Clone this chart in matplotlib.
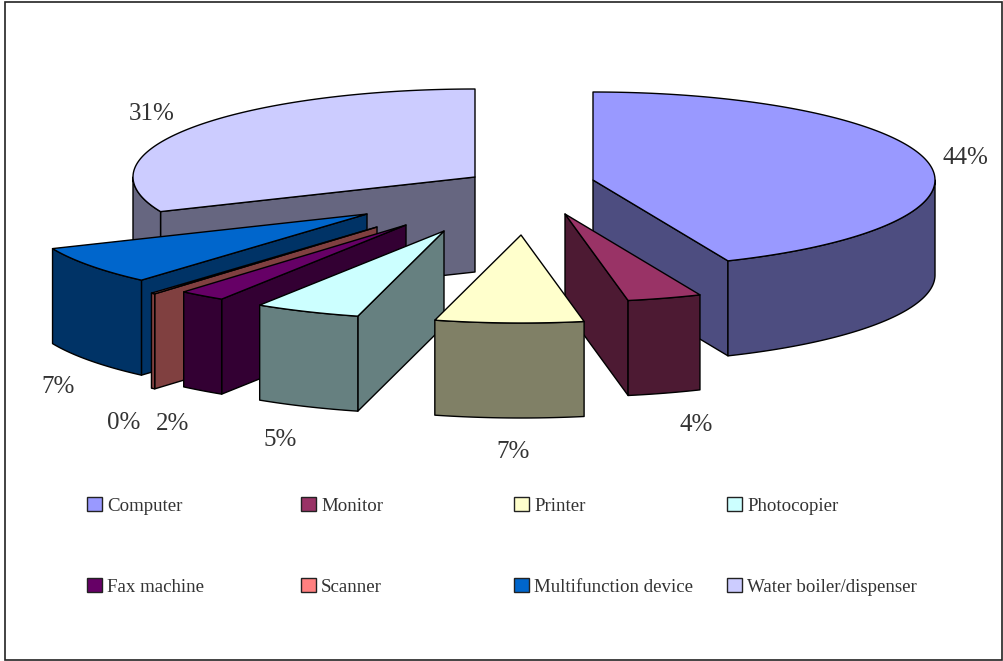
import numpy as np
import matplotlib
matplotlib.use('Agg')
import matplotlib.pyplot as plt
from matplotlib.patches import Polygon, Rectangle

# ============================================
# DATA
# ============================================

categories = ['Computer', 'Monitor', 'Printer', 'Photocopier',
              'Fax machine', 'Scanner', 'Multifunction device', 'Water boiler/dispenser']
shares = [43.5, 3.5, 7.0, 5.0, 2.2, 0.2, 7.1, 31.4]
colors = ['#9999FF', '#993366', '#FFFFCC', '#CCFFFF',
          '#660066', '#FF8080', '#0066CC', '#CCCCFF']

# ============================================
# LAYOUT (pixels, y pointing down)
# ============================================

WIDTH, HEIGHT = 1004, 661
CENTER = (519, 190)
RX, RY = 342, 88
DEPTH = 95

# how far each slice is pulled away from the pie centre
explode_dx = [74, 46, 2, -75, -113, -142, -152, -44]
explode_dy = [-10, 24, 45, 41, 35, 37, 24, -13]

label_x = [965, 696, 513, 280, 173, 124, 58, 152]
label_y = [158, 425, 452, 440, 424, 423, 387, 114]

legend_x = [87, 301, 514, 727]
legend_y = [504, 585]
text_baseline = [511, 592]

draw_order = [7, 0, 6, 1, 5, 4, 3, 2]


def darker(color):
    r, g, b = matplotlib.colors.to_rgb(color)
    return (r * 0.5, g * 0.5, b * 0.5)


def rim(apex, angles):
    """Points on the top ellipse; angle runs clockwise from 12 o'clock."""
    t = np.radians(angles)
    return np.column_stack([apex[0] + RX * np.sin(t), apex[1] - RY * np.cos(t)])


def draw_slice(ax, apex, start, end, color):
    side = darker(color)
    style = dict(edgecolor='black', linewidth=1.0, joinstyle='round')
    drop = np.array([0, DEPTH])

    # only the walls turned towards the viewer get drawn
    visible = []
    if start > 180:
        visible.append(start)
    if end < 180:
        visible.append(end)
    for a in visible:
        edge = rim(apex, [a])[0]
        wall = [apex, edge, edge + drop, np.array(apex) + drop]
        ax.add_patch(Polygon(wall, facecolor=side, **style))

    lo, hi = max(start, 90), min(end, 270)
    if hi > lo:
        arc = rim(apex, np.linspace(lo, hi, 80))
        ax.add_patch(Polygon(np.vstack([arc, arc[::-1] + drop]), facecolor=side, **style))

    top = rim(apex, np.linspace(start, end, 160))
    ax.add_patch(Polygon(np.vstack([[apex], top]), facecolor=color, **style))


plt.rcParams['font.family'] = ['Liberation Serif', 'DejaVu Serif']

fig = plt.figure(figsize=(WIDTH / 100, HEIGHT / 100), dpi=100)
ax = fig.add_axes([0, 0, 1, 1])
ax.set_xlim(0, WIDTH)
ax.set_ylim(HEIGHT, 0)
ax.axis('off')

# chart frame
ax.add_patch(Rectangle((5, 1.5), 997, 658.5, facecolor='white', edgecolor='#222222', linewidth=1.2))

# cumulative shares to slice angles
bounds = np.concatenate([[0], np.cumsum(shares)]) / np.sum(shares) * 360

for i in draw_order:
    apex = (CENTER[0] + explode_dx[i], CENTER[1] + explode_dy[i])
    draw_slice(ax, apex, bounds[i], bounds[i + 1], colors[i])

for i, share in enumerate(shares):
    ax.text(label_x[i], label_y[i], f'{share:.0f}%', ha='center', va='center',
            fontsize=18, color='#333333')

# legend, row by row
for i, (name, color) in enumerate(zip(categories, colors)):
    x = legend_x[i % 4]
    ax.add_patch(Rectangle((x, legend_y[i // 4] - 7), 15, 14, facecolor=color,
                           edgecolor='#222222', linewidth=1.0))
    ax.text(x + 20, text_baseline[i // 4], name, ha='left', va='baseline',
            fontsize=13.6, color='#333333')

plt.savefig('out.png', dpi=100)
